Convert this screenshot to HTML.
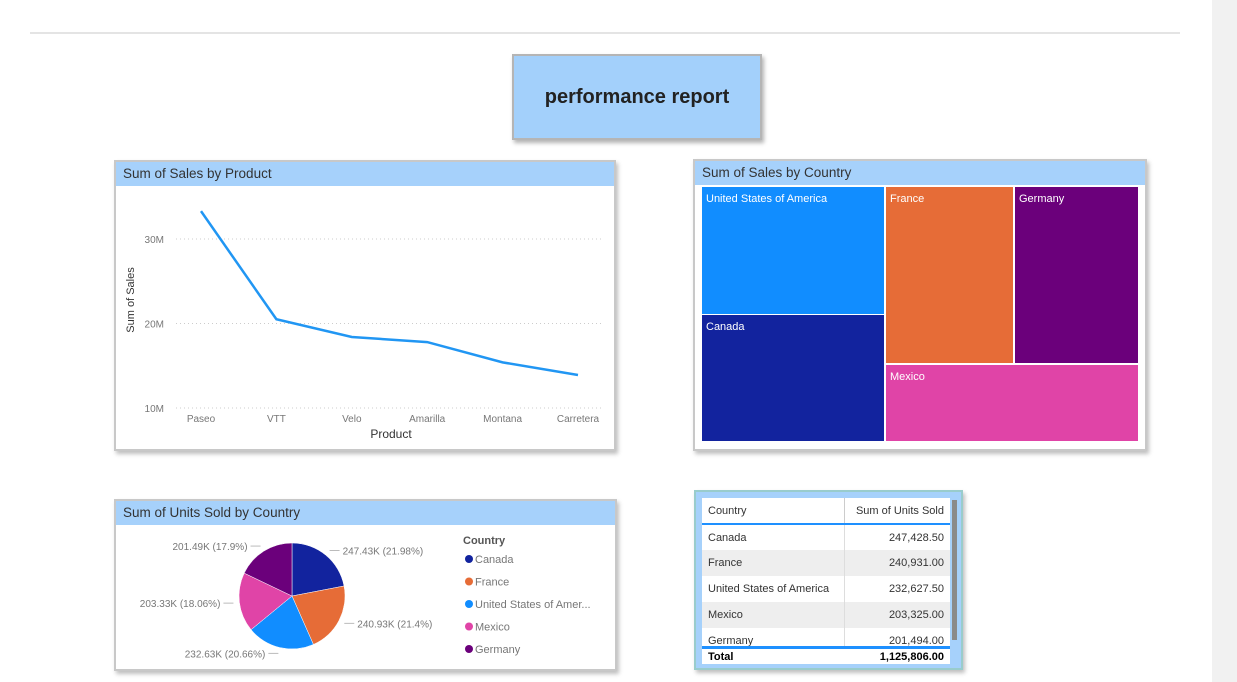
<!DOCTYPE html>
<html><head><meta charset="utf-8"><style>
body{margin:0;width:1237px;height:682px;background:#fff;position:relative;overflow:hidden;font-family:"Liberation Sans","DejaVu Sans",sans-serif}
.card{position:absolute;background:#fff;border:2px solid #c8c8c8;box-shadow:2px 3px 4px rgba(0,0,0,.25);box-sizing:border-box}
.hdr{background:#a6d1fb;height:24px;font-size:13.5px;color:#333;line-height:24px;padding-left:7px}
table{border-collapse:collapse;font-size:11px;color:#333}
</style></head><body>
<div style="position:absolute;left:1212px;top:0;width:25px;height:682px;background:#f1f1f1"></div>
<div style="position:absolute;left:30px;top:32px;width:1150px;height:2px;background:#e4e4e4"></div>
<div style="position:absolute;left:512px;top:54px;width:250px;height:86px;background:#a3d0fb;border:2px solid #b5b5b5;box-sizing:border-box;box-shadow:2px 3px 4px rgba(0,0,0,.3);text-align:center;line-height:82px;font-weight:bold;font-size:20px;color:#222">performance report</div>

<div class="card" style="left:114px;top:160px;width:502px;height:291px">
<div class="hdr">Sum of Sales by Product</div>
<svg id="line" width="498" height="263" style="position:absolute;left:0;top:26px"></svg>
</div>

<div class="card" style="left:693px;top:159px;width:454px;height:292px">
<div class="hdr">Sum of Sales by Country</div>
<svg id="tree" width="450" height="266" style="position:absolute;left:0;top:26px"></svg>
</div>

<div class="card" style="left:114px;top:499px;width:503px;height:172px">
<div class="hdr">Sum of Units Sold by Country</div>
<svg id="pie" width="499" height="146" style="position:absolute;left:0;top:24px"></svg>
</div>

<div class="card" style="left:694px;top:490px;width:269px;height:180px;background:#a6d1fb;border-color:#9cc">
<div style="position:absolute;left:6px;top:6px;width:248px;height:164px;background:#fff">
<table id="tbl" style="width:248px">
<tr style="height:26px;border-bottom:2px solid #1e90ff"><td style="padding-left:6px">Country</td><td style="text-align:right;padding-right:6px;border-left:1px solid #ccc">Sum of Units Sold</td></tr>
</table>
<div style="position:absolute;left:0;top:148px;width:248px;height:18px;border-top:3px solid #1e90ff;font-size:11px;font-weight:bold;background:#fff;box-sizing:border-box"><span style="position:absolute;left:6px;top:2px">Total</span><span style="position:absolute;right:6px;top:2px">1,125,806.00</span></div>
<div style="position:absolute;left:250px;top:2px;width:5px;height:140px;background:#8a8a8a"></div>
</div></div>

<script>
const products=["Paseo","VTT","Velo","Amarilla","Montana","Carretera"];
const sales=[33.3,20.5,18.4,17.8,15.4,13.9];
const yTicks=[10,20,30];
const NS="http://www.w3.org/2000/svg";
function mk(p,t,a){const e=document.createElementNS(NS,t);for(const k in a)e.setAttribute(k,a[k]);p.appendChild(e);return e;}
// line chart (svg offset: card left 116, top 188)
const L=document.getElementById('line');
const xS=i=>85+i*75.4, yS=v=>220-(v-10)*8.45;
yTicks.forEach(t=>{const g=mk(L,'line',{x1:60,x2:488,y1:yS(t),y2:yS(t),stroke:'#ccc','stroke-dasharray':'1 3'});

const tx=mk(L,'text',{x:48,y:yS(t)+4,'text-anchor':'end','font-size':10,fill:'#777'});tx.textContent=t+'M';
});
products.forEach((p,i)=>{const tx=mk(L,'text',{x:xS(i),y:234,'text-anchor':'middle','font-size':10,fill:'#777'});tx.textContent=p;
});
const pl=mk(L,'polyline',{points:sales.map((v,i)=>xS(i)+','+yS(v)).join(' '),fill:'none',stroke:'#2196f3','stroke-width':2.5});

let t=mk(L,'text',{x:275,y:250,'text-anchor':'middle','font-size':12,fill:'#333'});t.textContent='Product';

t=mk(L,'text',{x:0,y:0,transform:'translate(18,112) rotate(-90)','text-anchor':'middle','font-size':11,fill:'#333'});t.textContent='Sum of Sales';


// treemap (svg origin 695,187)
const tmNames=["United States of America","Canada","France","Germany","Mexico"];
const tmColors=["#118dff","#12239e","#e66c37","#6b007b","#e044a7"];
const tmRects=[[7,0,182,127],[7,128,182,126],[191,0,127,176],[320,0,123,176],[191,178,252,76]];
const T=document.getElementById('tree');
tmNames.forEach((n,i)=>{const r=tmRects[i];const e=mk(T,'rect',{x:r[0],y:r[1],width:r[2],height:r[3],fill:tmColors[i]});

const tx=mk(T,'text',{x:r[0]+4,y:r[1]+15,'font-size':11,fill:'#fff'});tx.textContent=n;
});

// pie (svg origin 116,523)
const countries=["Canada","France","United States of Amer...","Mexico","Germany"];
const units=[247.43,240.93,232.63,203.33,201.49];
const pieLabels=["247.43K (21.98%)","240.93K (21.4%)","232.63K (20.66%)","203.33K (18.06%)","201.49K (17.9%)"];
const pieColors=["#12239e","#e66c37","#118dff","#e044a7","#6b007b"];
const P=document.getElementById('pie');
const cx=176,cy=71,R=53,tot=units.reduce((a,b)=>a+b,0);
let a0=-Math.PI/2;
units.forEach((u,i)=>{const a1=a0+u/tot*2*Math.PI;
const d=`M${cx},${cy}L${cx+R*Math.cos(a0)},${cy+R*Math.sin(a0)}A${R},${R} 0 0 1 ${cx+R*Math.cos(a1)},${cy+R*Math.sin(a1)}Z`;
const s=mk(P,'path',{d:d,fill:pieColors[i],stroke:'#fff','stroke-width':0.5});

const am=(a0+a1)/2,ex=cx+(R+6)*Math.cos(am),ey=cy+(R+6)*Math.sin(am),right=Math.cos(am)>=0;
const lx=ex+(right?10:-10);
mk(P,'line',{x1:ex,y1:ey,x2:lx,y2:ey,stroke:'#bbb'});
const tx=mk(P,'text',{x:lx+(right?3:-3),y:ey+4,'text-anchor':right?'start':'end','font-size':10,fill:'#777'});tx.textContent=pieLabels[i];

a0=a1;});
t=mk(P,'text',{x:347,y:19,'font-size':11,'font-weight':'bold',fill:'#555'});t.textContent='Country';

countries.forEach((c,i)=>{const y=34+i*22.5;mk(P,'circle',{cx:353,cy:y,r:4,fill:pieColors[i]});
const tx=mk(P,'text',{x:359,y:y+4,'font-size':11,fill:'#777'});tx.textContent=c;
});

// table
const tCountries=["Canada","France","United States of America","Mexico","Germany"];
const tUnits=["247,428.50","240,931.00","232,627.50","203,325.00","201,494.00"];
const tb=document.getElementById('tbl');
tCountries.forEach((c,i)=>{const tr=document.createElement('tr');tr.style.height='26px';
tr.style.background=i%2?'#eee':'#fff';


tr.innerHTML=`<td style="padding-left:6px">${c}</td><td style="text-align:right;padding-right:6px;border-left:1px solid #ddd">${tUnits[i]}</td>`;tb.appendChild(tr);});
</script>
</body></html>
